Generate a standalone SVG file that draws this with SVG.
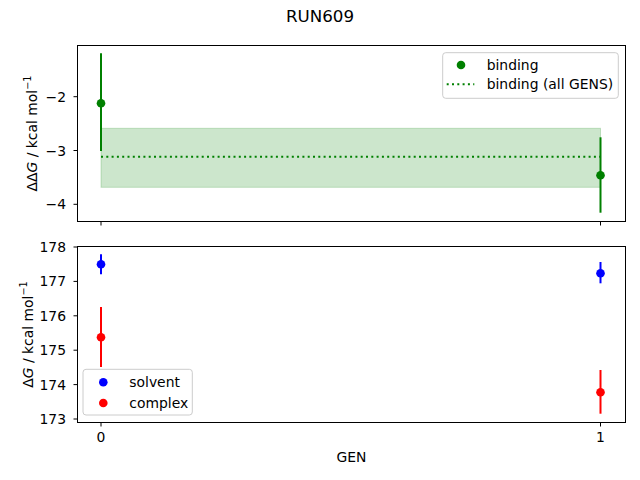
<svg xmlns="http://www.w3.org/2000/svg" width="640" height="480" viewBox="0 0 640 480">
<style>
text{font-family:"DejaVu Sans","Liberation Sans",sans-serif;font-size:13.9px;fill:#000}
.frame{fill:none;stroke:#000;stroke-width:1}
.tick{stroke:#000;stroke-width:1}
.yt{text-anchor:end;dominant-baseline:central}
.xt{text-anchor:middle}
.sup{font-size:9.7px}
.eg{stroke:#008000;stroke-width:2}
.eb{stroke:#0000ff;stroke-width:2}
.er{stroke:#ff0000;stroke-width:2}
.leg{fill:#fff;fill-opacity:0.8;stroke:#cccccc;stroke-width:1}
</style>
<rect width="640" height="480" fill="#fff"/>
<text x="320" y="21.5" text-anchor="middle" style="font-size:16.7px">RUN609</text>

<g id="top-axes">
  <rect x="101" y="128.3" width="499.5" height="59" fill="#008000" fill-opacity="0.2" stroke="#008000" stroke-opacity="0.2"/>
  <line x1="101" y1="156.7" x2="600.5" y2="156.7" stroke="#008000" stroke-width="2" stroke-dasharray="2 3.3"/>
  <line class="eg" x1="101" y1="53.3" x2="101" y2="151"/>
  <circle cx="101" cy="103.2" r="4.3" fill="#008000"/>
  <line class="eg" x1="600.5" y1="137.3" x2="600.5" y2="212.7"/>
  <circle cx="600.5" cy="175.3" r="4.3" fill="#008000"/>
  <rect class="frame" x="77.5" y="45.5" width="548" height="176"/>
  <line class="tick" x1="73.5" y1="96.7" x2="77.5" y2="96.7"/>
  <line class="tick" x1="73.5" y1="150.5" x2="77.5" y2="150.5"/>
  <line class="tick" x1="73.5" y1="204.3" x2="77.5" y2="204.3"/>
  <text class="yt" x="66" y="96.7">−2</text>
  <text class="yt" x="66" y="150.5">−3</text>
  <text class="yt" x="66" y="204.3">−4</text>
  <line class="tick" x1="101" y1="221.5" x2="101" y2="225.5"/>
  <line class="tick" x1="600.5" y1="221.5" x2="600.5" y2="225.5"/>
  <text transform="translate(36.5,133.5) rotate(-90)" text-anchor="middle">ΔΔ<tspan font-style="italic">G</tspan> / kcal mol<tspan class="sup" dy="-5.5">−1</tspan></text>
  <g id="legend-top">
    <rect class="leg" x="442.7" y="52.7" width="175.6" height="45.6" rx="3"/>
    <circle cx="461" cy="65" r="4.3" fill="#008000"/>
    <line x1="446.7" y1="84.3" x2="474.3" y2="84.3" stroke="#008000" stroke-width="2" stroke-dasharray="2 3.3"/>
    <text x="486.7" y="69.5">binding</text>
    <text x="486.7" y="89.3">binding (all GENS)</text>
  </g>
</g>

<g id="bottom-axes">
  <line class="eb" x1="101" y1="254.3" x2="101" y2="274.3"/>
  <circle cx="101" cy="264.3" r="4.3" fill="#0000ff"/>
  <line class="er" x1="101" y1="307" x2="101" y2="367"/>
  <circle cx="101" cy="337.3" r="4.3" fill="#ff0000"/>
  <line class="eb" x1="600.5" y1="262" x2="600.5" y2="283.3"/>
  <circle cx="600.5" cy="273.3" r="4.3" fill="#0000ff"/>
  <line class="er" x1="600.5" y1="370" x2="600.5" y2="413.7"/>
  <circle cx="600.5" cy="392.3" r="4.3" fill="#ff0000"/>
  <rect class="frame" x="77.5" y="246.5" width="548" height="176"/>
  <line class="tick" x1="73.5" y1="247" x2="77.5" y2="247"/>
  <line class="tick" x1="73.5" y1="281.4" x2="77.5" y2="281.4"/>
  <line class="tick" x1="73.5" y1="315.8" x2="77.5" y2="315.8"/>
  <line class="tick" x1="73.5" y1="350.2" x2="77.5" y2="350.2"/>
  <line class="tick" x1="73.5" y1="384.6" x2="77.5" y2="384.6"/>
  <line class="tick" x1="73.5" y1="419" x2="77.5" y2="419"/>
  <text class="yt" x="66" y="247">178</text>
  <text class="yt" x="66" y="281.4">177</text>
  <text class="yt" x="66" y="315.8">176</text>
  <text class="yt" x="66" y="350.2">175</text>
  <text class="yt" x="66" y="384.6">174</text>
  <text class="yt" x="66" y="419">173</text>
  <line class="tick" x1="101" y1="422.5" x2="101" y2="426.5"/>
  <line class="tick" x1="600.5" y1="422.5" x2="600.5" y2="426.5"/>
  <text class="xt" x="101" y="441.7">0</text>
  <text class="xt" x="600.5" y="441.7">1</text>
  <text x="351.5" y="462.3" text-anchor="middle">GEN</text>
  <text transform="translate(32.5,334.5) rotate(-90)" text-anchor="middle">Δ<tspan font-style="italic">G</tspan> / kcal mol<tspan class="sup" dy="-5.5">−1</tspan></text>
  <g id="legend-bottom">
    <rect class="leg" x="83" y="369.3" width="109.3" height="45.7" rx="3"/>
    <circle cx="103.3" cy="382.3" r="4.3" fill="#0000ff"/>
    <circle cx="103.3" cy="403" r="4.3" fill="#ff0000"/>
    <text x="129.3" y="387">solvent</text>
    <text x="129.3" y="407.5">complex</text>
  </g>
</g>
</svg>
